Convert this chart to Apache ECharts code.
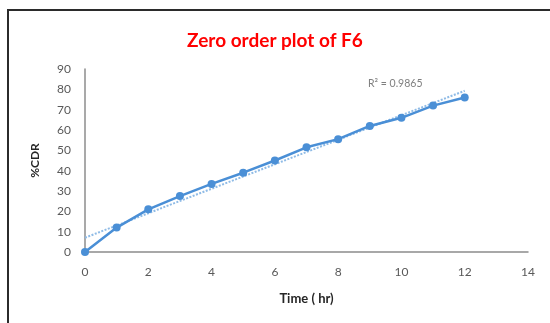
<!DOCTYPE html>
<html>
<head>
<meta charset="utf-8">
<script src="https://cdn.jsdelivr.net/npm/echarts@6/dist/echarts.min.js"></script>
<style>
  html, body { margin: 0; padding: 0; background: #fff; }
  #chart { width: 550px; height: 323px; }
</style>
</head>
<body>
<div id="chart"></div>
<script>
// data
const timeHr = [0, 1, 2, 3, 4, 5, 6, 7, 8, 9, 10, 11, 12]
const cdr = [0, 12, 21, 27.5, 33.5, 39, 45, 51.5, 55.5, 62, 66, 72, 76]
const rSquared = '0.9865'

// least squares trendline (like Excel's linear trendline)
const n = timeHr.length
const mx = timeHr.reduce((a, b) => a + b, 0) / n
const my = cdr.reduce((a, b) => a + b, 0) / n
let sxy = 0, sxx = 0
timeHr.forEach((x, i) => { sxy += (x - mx) * (cdr[i] - my); sxx += (x - mx) * (x - mx) })
const slope = sxy / sxx
const intercept = my - slope * mx
const trendX = [timeHr[0], timeHr[n - 1]]

const chart = echarts.init(document.getElementById('chart'))

const tickStyle = { color: '#595959', fontSize: 12, fontFamily: 'Lato' }
const axisLine = { show: true, lineStyle: { color: '#8c8c8c', width: 1.5 } }

chart.setOption({
  backgroundColor: '#fff',
  animation: false,
  title: {
    text: 'Zero order plot of F6',
    left: 'center',
    top: 26,
    textStyle: { color: '#ff0000', fontSize: 19, fontWeight: 'bold', fontFamily: 'Lato' },
  },
  graphic: [
    {
      type: 'rect',
      shape: { x: 8, y: 10, width: 600, height: 400 },
      style: { fill: null, stroke: '#2b2b2b', lineWidth: 2 },
      silent: true,
    },
    {
      type: 'text',
      left: 368,
      top: 78,
      style: { text: 'R² = ' + rSquared, fill: '#7f7f7f', fontSize: 10.5, fontFamily: 'Lato' },
    },
  ],
  grid: { left: 85, right: 22, top: 69, bottom: 71 },
  xAxis: {
    type: 'value',
    min: 0,
    max: 14,
    interval: 2,
    name: 'Time ( hr)',
    nameLocation: 'middle',
    nameGap: 40,
    nameTextStyle: { color: '#262626', fontSize: 13, fontWeight: 'bold', fontFamily: 'Lato' },
    axisLine: axisLine,
    axisTick: { show: false },
    splitLine: { show: false },
    axisLabel: { ...tickStyle, margin: 14 },
  },
  yAxis: {
    type: 'value',
    min: 0,
    max: 90,
    interval: 10,
    name: '%CDR',
    nameLocation: 'middle',
    nameGap: 44,
    nameRotate: 90,
    nameTextStyle: { color: '#262626', fontSize: 12, fontWeight: 'bold', fontFamily: 'Lato' },
    axisLine: axisLine,
    axisTick: { show: false },
    splitLine: { show: false },
    axisLabel: { ...tickStyle, margin: 14 },
  },
  series: [
    {
      type: 'line',
      data: trendX.map(x => [x, intercept + slope * x]),
      symbol: 'none',
      lineStyle: { color: '#8fbbe6', width: 2, type: [2, 1.5] },
      z: 1,
    },
    {
      type: 'line',
      data: timeHr.map((t, i) => [t, cdr[i]]),
      symbol: 'circle',
      symbolSize: 8,
      itemStyle: { color: '#4a8fd6' },
      lineStyle: { color: '#4a8fd6', width: 2.5 },
      z: 2,
    },
  ],
})
</script>
</body>
</html>
